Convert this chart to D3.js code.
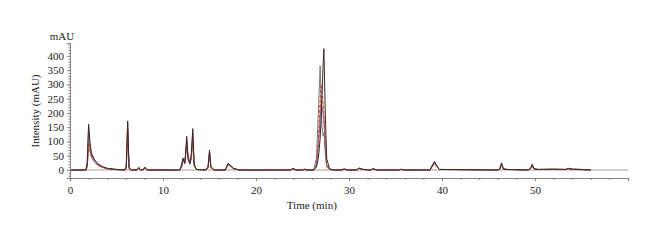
<!DOCTYPE html>
<html><head><meta charset="utf-8">
<script src="https://cdn.jsdelivr.net/npm/d3@7"></script>
<style>body{margin:0;background:#fff}svg{display:block}text{font-family:"Liberation Serif","DejaVu Serif",serif;fill:#222}</style>
</head><body><svg id="c" width="660" height="241"></svg>
<script>
const times = [0,1.7,1.85,2.0,2.15,2.3,2.6,3.0,3.5,4.0,
5.0,5.9,6.05,6.2,6.35,6.6,7.2,7.4,7.6,7.85,
8.05,8.3,10.0,11.8,12.0,12.15,12.35,12.55,12.7,12.9,
13.05,13.2,13.35,13.6,14.6,14.85,15.0,15.15,15.5,16.7,
17.0,17.2,17.6,18.2,23.7,24.0,24.3,25.0,25.2,25.4,
26.2,26.5,26.7,26.9,27.0,27.1,27.2,27.3,27.45,27.6,
27.9,28.3,29.2,29.5,29.8,30.8,31.1,31.5,32.3,32.6,
33.0,35.3,35.6,36.0,38.7,39.0,39.2,39.4,39.7,45.9,
46.2,46.4,46.6,47.0,49.3,49.55,49.7,49.9,50.3,52.0,
53.3,53.6,54.0,55.0,56.0];
const runA = [0,0,20,160,95,60,38,22,12,6, 2,0,10,172,8,0,0,9,0,0, 10,0,0,0,15,42,22,118,40,22, 60,145,20,2,0,10,70,12,0,0, 24,18,6,0,0,6,0,0,3,0, 0,10,40,110,180,260,360,425,200,40, 5,0,0,4,0,0,7,2,0,5, 0,0,3,0,0,18,30,18,2,0, 3,25,4,2,0,8,20,5,2,3, 2,6,3,2,0];
const runB = [0,0,30,150,80,50,32,18,10,5, 2,0,20,165,5,0,0,8,0,0, 9,0,0,0,20,38,25,105,35,20, 50,130,15,2,0,15,65,8,0,0, 22,16,5,0,0,5,0,0,3,0, 0,40,200,365,250,150,120,130,60,10, 2,0,0,4,0,0,6,2,0,4, 0,0,2,0,0,20,28,15,2,0, 3,22,3,2,0,8,18,4,2,3, 2,5,3,2,0];
const runC = [0,0,15,95,75,50,32,18,10,5, 2,0,8,150,6,0,0,8,0,0, 8,0,0,0,12,35,28,95,45,25, 45,120,18,2,0,10,62,10,0,0, 20,15,5,0,0,4,0,0,2,0, 0,20,100,250,300,280,240,200,90,20, 3,0,0,3,0,0,6,2,0,4, 0,0,2,0,0,16,26,16,2,0, 2,20,3,2,0,6,16,4,2,2, 2,5,3,2,0];
const runD = [0,0,10,75,65,45,30,16,9,4, 1,0,6,130,5,0,0,7,0,0, 7,0,0,0,10,30,30,80,50,28, 40,105,16,2,0,8,55,8,0,0, 18,14,4,0,0,4,0,0,2,0, 0,15,80,180,230,220,200,170,80,15, 2,0,0,3,0,0,5,2,0,3, 0,0,2,0,0,14,24,14,2,0, 2,18,3,2,0,5,14,3,2,2, 2,4,2,1,0];
const runE = [0,0,12,85,70,48,30,17,9,4, 1,0,7,140,5,0,0,7,0,0, 8,0,0,0,11,32,26,90,42,24, 42,112,16,2,0,9,58,9,0,0, 19,14,4,0,0,4,0,0,2,0, 0,18,90,210,260,250,230,190,85,18, 2,0,0,3,0,0,5,2,0,3, 0,0,2,0,0,14,24,14,2,0, 2,18,3,2,0,5,14,3,2,2, 2,4,2,1,0];
const blankTimes = [0,60];
const blankValues = [0,0];
const xTicks = [0,10,20,30,40,50];
const yTicks = [0,50,100,150,200,250,300,350,400];

const svg = d3.select("#c");
const x = d3.scaleLinear().domain([0,60]).range([70,628]);
const y = d3.scaleLinear().domain([-28,445]).range([178,43]);

// baseline (blank)
const line = d3.line().x(d=>x(d[0])).y(d=>y(d[1]));
svg.append("path").datum(blankTimes.map((t,i)=>[t,blankValues[i]]))
  .attr("d",line).attr("fill","none").attr("stroke","#cdbcb6").attr("stroke-width",1.6);

const series = [
  {v:runE, c:"#e0a050", dash:null, w:0.9},
  {v:runD, c:"#8a5aa8", dash:null, w:0.9},
  {v:runB, c:"#777777", dash:null, w:1},
  {v:runC, c:"#d0402e", dash:"3,2", w:1},
  {v:runA, c:"#3a2626", dash:null, w:1}
];
series.forEach(s=>{
  svg.append("path").datum(times.map((t,i)=>[t,s.v[i]]))
    .attr("d",line).attr("fill","none").attr("stroke",s.c)
    .attr("stroke-width",s.w).attr("stroke-dasharray",s.dash)
    .attr("stroke-linejoin","round");
});

// x axis
const xa = svg.append("g").attr("transform","translate(0,178)")
  .call(d3.axisBottom(x).tickValues(xTicks).tickSize(3).tickPadding(5).tickFormat(d3.format("d")));
xa.select(".domain").attr("stroke","#8a8080").attr("stroke-width",1.2);
xa.selectAll(".tick line").attr("stroke","#8a8080");
xa.selectAll("text").attr("font-size",11).attr("font-family","Liberation Serif");
svg.append("g").attr("transform","translate(0,178)")
  .call(d3.axisBottom(x).tickValues(d3.range(0,61,2)).tickSize(2).tickFormat(""))
  .call(g=>g.select(".domain").remove()).selectAll("line").attr("stroke","#8a8080");

// y axis
const ya = svg.append("g").attr("transform","translate(70,0)")
  .call(d3.axisLeft(y).tickValues(yTicks).tickSize(3).tickPadding(3));
ya.select(".domain").attr("stroke","#8a8080");
ya.selectAll(".tick line").attr("stroke","#8a8080");
ya.selectAll("text").attr("font-size",11).attr("font-family","Liberation Serif");
svg.append("g").attr("transform","translate(70,0)")
  .call(d3.axisLeft(y).tickValues(d3.range(-20,441,10)).tickSize(1.5).tickFormat(""))
  .call(g=>g.select(".domain").remove()).selectAll("line").attr("stroke","#8a8080");

svg.append("text").attr("x",62).attr("y",40).attr("text-anchor","middle").attr("font-size",11).text("mAU");
svg.append("text").attr("x",x(26)).attr("y",209).attr("text-anchor","middle").attr("font-size",11).text("Time (min)");
svg.append("text").attr("transform","translate(39,111) rotate(-90)").attr("text-anchor","middle").attr("font-size",11).text("Intensity (mAU)");
</script></body></html>
